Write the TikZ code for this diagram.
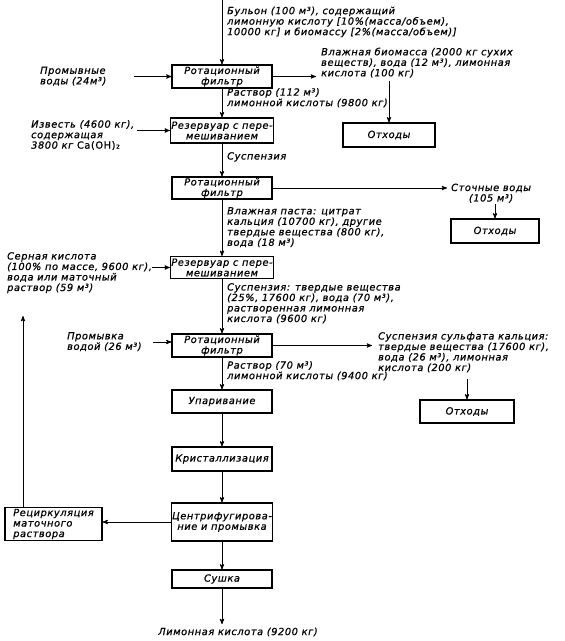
\documentclass[tikz,border=0pt]{standalone}
\usepackage{fontspec}
\setmainfont{DejaVu Sans}[LetterSpace=6, FakeBold=0.8]
\usetikzlibrary{arrows,positioning}
\tikzset{
    %Define standard arrow tip
    >=stealth',
    %Define style for process boxes
    box-style/.style={
           rectangle,
           draw=black, line width=1.1pt,
           minimum width=100pt,
           minimum height=23pt,
           inner sep=1pt,
           align=center},
    %Define style for stream texts
    note-style/.style={
           inner sep=0pt,
           align=left,
           anchor=north west},
    % Define arrow style
    pil/.style={
           ->,
           line width=0.9pt}
}

\begin{document}
\begin{tikzpicture}[x=1pt, y=-1pt, font=\fontsize{9.8}{10.5}\selectfont\itshape]
 \useasboundingbox (0,0) rectangle (565,641);

 % main column
 \node[box-style] (filter1) at (222,76.5) {Ротационный\\фильтр};
 \node[box-style, minimum height=25pt] (tank1) at (222,130.5) {Резервуар с пере-\\мешиванием};
 \node[box-style, minimum height=22pt] (filter2) at (222,188) {Ротационный\\фильтр};
 \node[box-style, minimum height=22pt] (tank2) at (222,267.5) {Резервуар с пере-\\мешиванием};
 \node[box-style] (filter3) at (222,345.5) {Ротационный\\фильтр};
 \node[box-style] (evap) at (222,401.5) {Упаривание};
 \node[box-style, minimum height=24pt] (cryst) at (222,459) {Кристаллизация};
 \node[box-style, minimum height=38pt] (centr) at (222,522) {Центрифугирова-\\ние и промывка};
 \node[box-style, minimum height=18pt] (dry) at (222,579) {Сушка};

 \node[box-style, minimum width=97pt, minimum height=32pt, align=left] (recycle) at (53.5,524)
   {Рециркуляция\\маточного\\раствора};

 \node[box-style, minimum width=92pt, minimum height=24pt] (waste1) at (389,135) {Отходы};
 \node[box-style, minimum width=88pt, minimum height=24pt] (waste2) at (495,231) {Отходы};
 \node[box-style, minimum width=94pt, minimum height=23pt] (waste3) at (467,411.5) {Отходы};

 % stream texts
 \node[note-style] (broth) at (227,6.5)
   {Бульон (100 м³), содержащий\\лимонную кислоту [10\%(масса/объем),\\10000 кг] и биомассу [2\%(масса/объем)]};
 \node[note-style] (wash1) at (40,66.5) {Промывные\\воды (24м³)};
 \node[note-style] (biomass) at (321,47.5)
   {Влажная биомасса (2000 кг сухих\\веществ), вода (12 м³), лимонная\\кислота (100 кг)};
 \node[note-style] (sol1) at (227,88) {Раствор (112 м³)\\лимонной кислоты (9800 кг)};
 \node[note-style] (lime) at (31,120) {Известь (4600 кг),\\содержащая\\3800 кг {\upshape Ca(OH)₂}};
 \node[note-style] (susp1) at (227,152) {Суспензия};
 \node[note-style, align=center] (sewage) at (451,183.5) {Сточные воды\\(105 м³)};
 \node[note-style] (paste) at (227,207)
   {Влажная паста: цитрат\\кальция (10700 кг), другие\\твердые вещества (800 кг),\\вода (18 м³)};
 \node[note-style] (acid) at (7,252)
   {Серная кислота\\(100\% по массе, 9600 кг),\\вода или маточный\\раствор (59 м³)};
 \node[note-style] (susp2) at (227,283)
   {Суспензия: твердые вещества\\(25\%, 17600 кг), вода (70 м³),\\растворенная лимонная\\кислота (9600 кг)};
 \node[note-style] (wash2) at (67,332) {Промывка\\водой (26 м³)};
 \node[note-style] (sulfate) at (378,332)
   {Суспензия сульфата кальция:\\твердые вещества (17600 кг),\\вода (26 м³), лимонная\\ кислота (200 кг)};
 \node[note-style] (sol2) at (227,361) {Раствор (70 м³)\\лимонной кислоты (9400 кг)};
 \node (product) at (238,632) {Лимонная кислота (9200 кг)};

 % free ends of the streams
 \coordinate (broth-in) at (222,0);
 \coordinate (wash1-in) at (134,76.5);
 \coordinate (biomass-out) at (316,76.5);
 \coordinate (biomass-drop) at (389,81);
 \coordinate (lime-in) at (137,130.5);
 \coordinate (sewage-out) at (447,188);
 \coordinate (sewage-drop) at (495,204);
 \coordinate (acid-in) at (152,267.5);
 \coordinate (wash2-in) at (153,342);
 \coordinate (sulfate-out) at (372,345.5);
 \coordinate (sulfate-drop) at (467,379);
 \coordinate (recycle-top) at (23,316);

 % connectors
 \draw[pil] (broth-in) -- (filter1.north);
 \draw[pil] (wash1-in) -- (filter1.west);
 \draw[pil] (filter1.east) -- (biomass-out);
 \draw[pil] (biomass-drop) -- (waste1.north);
 \draw[pil] (filter1.south) -- (tank1.north);
 \draw[pil] (lime-in) -- (tank1.west);
 \draw[pil] (tank1.south) -- (filter2.north);
 \draw[pil] (filter2.east) -- (sewage-out);
 \draw[pil] (sewage-drop) -- (waste2.north);
 \draw[pil] (filter2.south) -- (tank2.north);
 \draw[pil] (acid-in) -- (tank2.west);
 \draw[pil] (tank2.south) -- (filter3.north);
 \draw[pil] (wash2-in) -- (wash2-in -| filter3.west);
 \draw[pil] (filter3.east) -- (sulfate-out);
 \draw[pil] (sulfate-drop) -- (waste3.north);
 \draw[pil] (filter3.south) -- (evap.north);
 \draw[pil] (evap.south) -- (cryst.north);
 \draw[pil] (cryst.south) -- (centr.north);
 \draw[pil] (centr.south) -- (dry.north);
 \draw[pil] (dry.south) -- (dry.south |- product.north);
 \draw[pil] (centr.west) -- (centr.west -| recycle.east);
 \draw[pil] (recycle.north -| recycle-top) -- (recycle-top);
\end{tikzpicture}
\end{document}
